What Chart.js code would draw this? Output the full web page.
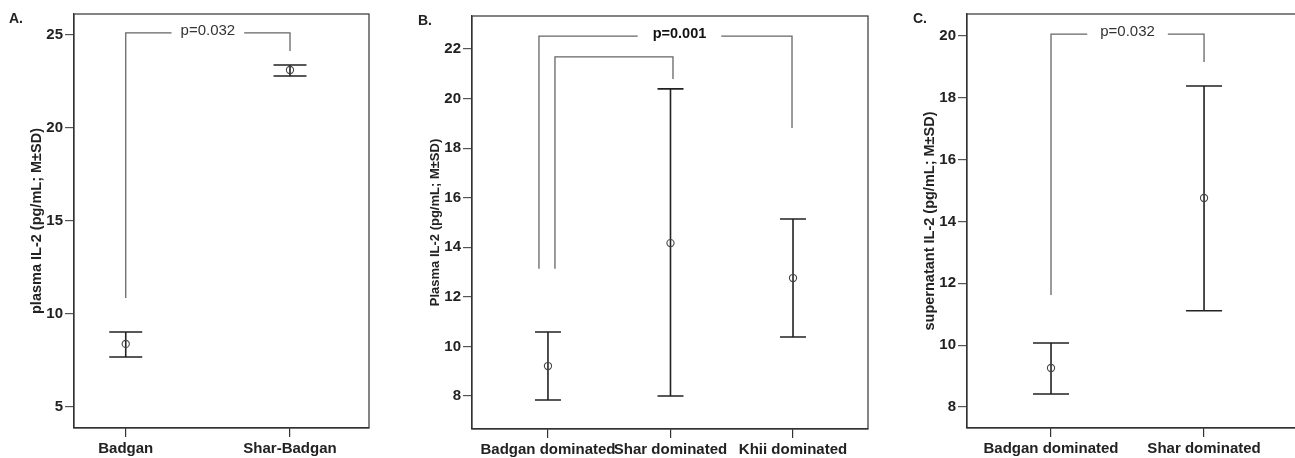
<!DOCTYPE html>
<html>
<head>
<meta charset="utf-8">
<script src="https://cdn.jsdelivr.net/npm/chart.js@4.4.1/dist/chart.umd.min.js"></script>
<style>
  html, body { margin: 0; padding: 0; background: #fff; overflow: hidden; }
  body { width: 1295px; height: 458px; position: relative; font-family: Arial, 'Liberation Sans', sans-serif; }
  .panel { position: absolute; top: 0; height: 458px; }
  .tag { position: absolute; font-weight: bold; font-size: 14px; color: #222; line-height: 16px; }
</style>
</head>
<body>
<div class="panel" style="left:0;width:410px"><canvas id="chartA" width="410" height="458"></canvas></div>
<div class="panel" style="left:420px;width:460px"><canvas id="chartB" width="460" height="458"></canvas></div>
<div class="panel" style="left:880px;width:430px"><canvas id="chartC" width="430" height="458"></canvas></div>
<div class="tag" style="left:9px;top:10px">A.</div>
<div class="tag" style="left:418px;top:12px">B.</div>
<div class="tag" style="left:913px;top:10px">C.</div>

<script>
// Panel A - plasma IL-2, Badgan vs Shar-Badgan
const groupsA = ['Badgan', 'Shar-Badgan'];
const meanA = [8.39, 23.12];
const lowA = [7.69, 22.80];
const highA = [9.03, 23.39];
const ticksA = [5, 10, 15, 20, 25];
const bracketsA = [
  { from: 0, to: 1, top: 25.11, leftEnd: 10.86, rightEnd: 24.14, label: 'p=0.032' }
];

// Panel B - plasma IL-2 by dominated group
const groupsB = ['Badgan dominated', 'Shar dominated', 'Khii dominated'];
const meanB = [9.21, 14.17, 12.76];
const lowB = [7.84, 8.0, 10.38];
const highB = [10.58, 20.39, 15.14];
const ticksB = [8, 10, 12, 14, 16, 18, 20, 22];
const bracketsB = [
  { from: 0, to: 2, top: 22.52, leftEnd: 13.13, rightEnd: 18.81, label: 'p=0.001' },
  { from: 0, to: 1, top: 21.68, leftEnd: 13.13, rightEnd: 20.79, label: 'p=0.027' }
];

// Panel C - supernatant IL-2
const groupsC = ['Badgan dominated', 'Shar dominated'];
const meanC = [9.26, 14.76];
const lowC = [8.42, 11.11];
const highC = [10.07, 18.38];
const ticksC = [8, 10, 12, 14, 16, 18, 20];
const bracketsC = [
  { from: 0, to: 1, top: 20.06, leftEnd: 11.62, rightEnd: 19.16, label: 'p=0.032' }
];

const FONT = "Arial, 'Liberation Sans', sans-serif";
const INK = '#222';

// box around the plot area
const framePlugin = {
  id: 'frame',
  afterDraw(chart) {
    const { ctx, chartArea: a } = chart;
    ctx.save();
    ctx.strokeStyle = '#333';
    ctx.lineWidth = 1.2;
    ctx.strokeRect(a.left, a.top, a.right - a.left, a.bottom - a.top);
    ctx.restore();
  }
};

// mean +/- SD whiskers with caps
const errorBarPlugin = {
  id: 'errorBars',
  beforeDatasetsDraw(chart, args, opts) {
    const { ctx, scales: { x, y } } = chart;
    ctx.save();
    ctx.strokeStyle = INK;
    ctx.lineWidth = 1.6;
    opts.low.forEach((lo, i) => {
      const px = x.getPixelForValue(i);
      const yLo = y.getPixelForValue(lo);
      const yHi = y.getPixelForValue(opts.high[i]);
      ctx.beginPath();
      ctx.moveTo(px, yLo); ctx.lineTo(px, yHi);
      ctx.moveTo(px - opts.cap, yLo); ctx.lineTo(px + opts.cap, yLo);
      ctx.moveTo(px - opts.cap, yHi); ctx.lineTo(px + opts.cap, yHi);
      ctx.stroke();
    });
    ctx.restore();
  }
};

// significance brackets
const bracketPlugin = {
  id: 'brackets',
  afterDatasetsDraw(chart, args, opts) {
    const { ctx, scales: { x, y } } = chart;
    ctx.save();
    ctx.font = opts.font;
    ctx.textAlign = 'center';
    ctx.textBaseline = 'middle';
    opts.items.forEach((b, k) => {
      const st = (opts.style && opts.style[k]) || {};
      const x1 = x.getPixelForValue(b.from) + (st.nudgeFrom || 0);
      const x2 = x.getPixelForValue(b.to) + (st.nudgeTo || 0);
      const yt = y.getPixelForValue(b.top);
      const cx = (x1 + x2) / 2 + (st.shift || 0);
      const half = ctx.measureText(b.label).width / 2 + opts.gap;
      ctx.strokeStyle = '#666';
      ctx.lineWidth = 1.3;
      ctx.beginPath();
      ctx.moveTo(x1, y.getPixelForValue(b.leftEnd));
      ctx.lineTo(x1, yt);
      ctx.lineTo(cx - half, yt);
      ctx.moveTo(cx + half, yt);
      ctx.lineTo(x2, yt);
      ctx.lineTo(x2, y.getPixelForValue(b.rightEnd));
      ctx.stroke();
      ctx.fillStyle = opts.color;
      ctx.fillText(b.label, cx, yt - 2);
    });
    ctx.restore();
  }
};

function makePanel(id, p) {
  new Chart(document.getElementById(id), {
    type: 'scatter',
    data: {
      datasets: [{
        data: p.mean.map((m, i) => ({ x: i, y: m })),
        pointStyle: 'circle',
        pointRadius: 3.6,
        pointBorderWidth: 1.1,
        pointBorderColor: '#444',
        pointBackgroundColor: 'rgba(0,0,0,0)'
      }]
    },
    options: {
      responsive: false,
      devicePixelRatio: 1,
      animation: false,
      layout: { padding: p.padding },
      scales: {
        x: {
          type: 'linear',
          min: p.xMin,
          max: p.xMax,
          afterBuildTicks: s => { s.ticks = p.groups.map((g, i) => ({ value: i })); },
          afterFit: s => { s.height = p.xHeight; },
          ticks: {
            autoSkip: false,
            maxRotation: 0,
            padding: 3,
            color: INK,
            font: { family: FONT, size: 15, weight: 'bold' },
            callback: v => p.groups[v]
          },
          grid: { drawOnChartArea: false, drawTicks: true, tickLength: 9, color: '#333', lineWidth: 1.2 },
          border: { color: '#333', width: 1.2 }
        },
        y: {
          min: p.yMin,
          max: p.yMax,
          afterBuildTicks: s => { s.ticks = p.ticks.map(v => ({ value: v })); },
          afterFit: s => { s.width = p.yWidth; },
          ticks: {
            padding: 2,
            color: INK,
            font: { family: FONT, size: 15, weight: 'bold' },
            callback: v => String(v)
          },
          grid: { drawOnChartArea: false, drawTicks: true, tickLength: 9, color: '#555', lineWidth: 1.2 },
          border: { color: '#333', width: 1.2 },
          title: {
            display: true,
            text: p.title,
            color: INK,
            padding: { top: p.titlePad, bottom: 0 },
            font: { family: FONT, size: p.titleSize, weight: 'bold' }
          }
        }
      },
      plugins: {
        legend: { display: false },
        tooltip: { enabled: false },
        errorBars: { low: p.low, high: p.high, cap: p.cap },
        brackets: p.brackets
      }
    },
    plugins: [errorBarPlugin, bracketPlugin, framePlugin]
  });
}

makePanel('chartA', {
  groups: groupsA, mean: meanA, low: lowA, high: highA, ticks: ticksA,
  xMin: -0.315, xMax: 1.481, yMin: 3.87, yMax: 26.13,
  padding: { left: 0, right: 41, top: 14, bottom: 0 }, yWidth: 74, xHeight: 30,
  title: 'plasma IL-2 (pg/mL; M\u00b1SD)', titleSize: 14.5, titlePad: 28.3,
  cap: 16.5,
  brackets: { items: bracketsA, font: '15px ' + FONT, color: '#333', gap: 9 }
});

makePanel('chartB', {
  groups: groupsB, mean: meanB, low: lowB, high: highB, ticks: ticksB,
  xMin: -0.62, xMax: 2.612, yMin: 6.67, yMax: 23.33,
  padding: { left: 0, right: 12, top: 16, bottom: 0 }, yWidth: 52, xHeight: 29,
  title: 'Plasma IL-2 (pg/mL; M\u00b1SD)', titleSize: 13, titlePad: 7.2,
  cap: 13,
  brackets: {
    items: bracketsB, font: 'bold 14.5px ' + FONT, color: '#111', gap: 15,
    style: [{ nudgeFrom: -9, nudgeTo: -1, shift: 14 }, { nudgeFrom: 7, nudgeTo: 2.5 }]
  }
});

makePanel('chartC', {
  groups: groupsC, mean: meanC, low: lowC, high: highC, ticks: ticksC,
  xMin: -0.549, xMax: 1.627, yMin: 7.32, yMax: 20.71,
  padding: { left: 0, right: 10, top: 14, bottom: 0 }, yWidth: 87, xHeight: 30,
  title: 'supernatant IL-2 (pg/mL; M\u00b1SD)', titleSize: 14.5, titlePad: 41.3,
  cap: 18,
  brackets: { items: bracketsC, font: '15px ' + FONT, color: '#333', gap: 13 }
});
</script>
</body>
</html>
